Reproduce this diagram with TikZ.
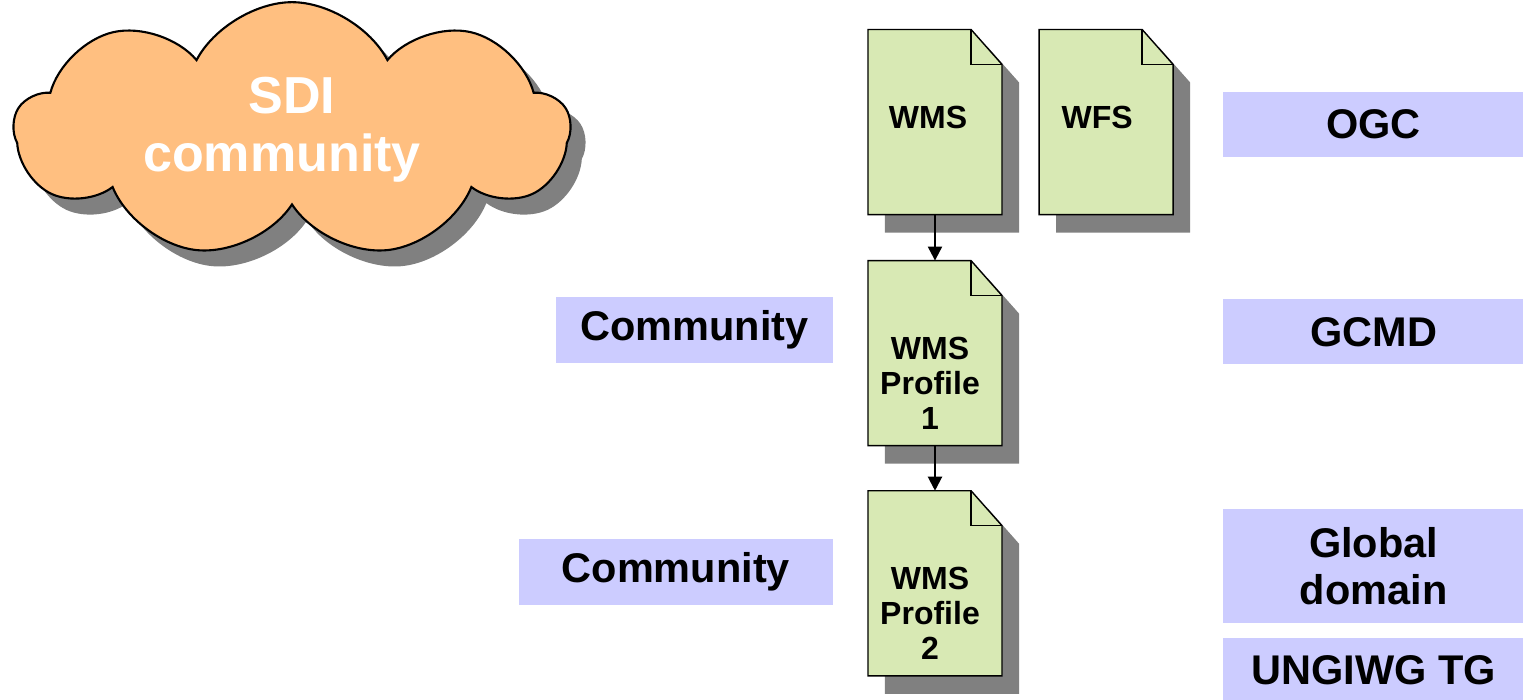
\documentclass[tikz,border=0pt]{standalone}
\usepackage{fontspec}
\setmainfont{Liberation Sans}
\usetikzlibrary{arrows.meta,positioning,shapes.symbols,shadows,backgrounds}

\definecolor{cloudorange}{RGB}{255,191,128}
\definecolor{docgreen}{RGB}{216,233,180}
\definecolor{tagblue}{RGB}{204,204,255}
\definecolor{shadowgray}{RGB}{128,128,128}

\begin{document}
\begin{tikzpicture}[
    x = 0.01cm, y = -0.01cm, % one unit per pixel
    > = {Triangle[width=4pt,length=4pt]}, % arrow head style
    semithick % line style
    ]

    \tikzset{
    doc/.style = {minimum width=1.34cm, minimum height=1.85cm, inner sep=0pt, outer sep=0pt},
    doctext/.style = {align=center, font=\bfseries\fontsize{9.1}{10}\selectfont},
    tag/.style = {fill=tagblue, minimum height=0.65cm, inner sep=0pt, align=center,
      font=\bfseries\fontsize{11.8}{13.4}\selectfont}
    }

    \useasboundingbox (0,0) rectangle (1523,699);

    % the cloud
    \node[cloud, cloud puffs=9, cloud puff arc=125, aspect=2.35, draw, fill=cloudorange,
      minimum width=5.55cm, minimum height=2.36cm, inner sep=0pt, text=white, align=center,
      font=\bfseries\fontsize{14.8}{16.5}\selectfont,
      drop shadow={shadow xshift=0.15cm, shadow yshift=-0.16cm, fill=shadowgray, opacity=1}]
      (sdi) at (292,130) {SDI\\community\hspace*{0.2cm}};

    % documents
    \node[doc] (wms) at (935,122) {};
    \node[doc] (wfs) [right=0.37cm of wms] {};
    \node[doc] (prof1) [below=0.46cm of wms] {};
    \node[doc] (prof2) [below=0.45cm of prof1] {};

    \node[doctext] (wmstext) at ([xshift=-0.07cm,yshift=0.05cm]wms.center) {WMS};
    \node[doctext] (wfstext) at ([xshift=-0.09cm,yshift=0.05cm]wfs.center) {WFS};
    \node[doctext] (prof1text) at ([xshift=-0.05cm,yshift=-0.30cm]prof1.center) {WMS\\Profile\\1};
    \node[doctext] (prof2text) at ([xshift=-0.05cm,yshift=-0.30cm]prof2.center) {WMS\\Profile\\2};

    \begin{scope}[on background layer]
    \foreach \d in {wms,wfs,prof1,prof2}{
      \fill[shadowgray] ([shift={(17,18)}]\d.north west) -- ([shift={(-14,18)}]\d.north east)
        -- ([shift={(17,53)}]\d.north east) -- ([shift={(17,18)}]\d.south east)
        -- ([shift={(17,18)}]\d.south west) -- cycle;
      \draw[fill=docgreen] (\d.north west) -- ([xshift=-0.31cm]\d.north east)
        -- ([yshift=-0.35cm]\d.north east) -- (\d.south east) -- (\d.south west) -- cycle;
      \draw ([xshift=-0.31cm]\d.north east) |- ([yshift=-0.35cm]\d.north east);
    }
    \end{scope}

    \path[->] (wms) edge (prof1);
    \path[->] (prof1) edge (prof2);

    % labels
    \node[tag, minimum width=3.01cm, anchor=west] (ogc) at (1222,124.5) {OGC};
    \node[tag, minimum width=3.01cm] (gcmd) [below=1.4cm of ogc] {GCMD};
    \node[tag, minimum width=3.01cm, minimum height=1.14cm, anchor=north west] (glob) at (1222,508) {Global\\domain};
    \node[tag, minimum width=3.01cm, minimum height=0.63cm] (ungiwg) [below=0.13cm of glob] {UNGIWG TG};

    \node[tag, minimum width=2.77cm, anchor=east] (comm1) at (834,330) {Community};
    \node[tag, minimum width=3.14cm, anchor=east] (comm2) at (834,572) {Community};
\end{tikzpicture}
\end{document}
